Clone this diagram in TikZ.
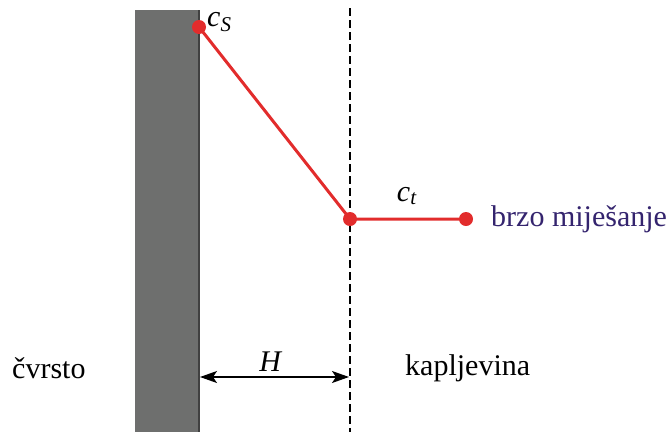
\documentclass[tikz,border=0pt]{standalone}
\usepackage{fontspec}
\setmainfont{Liberation Serif}
\usepackage{tikz}
\definecolor{wallgray}{RGB}{110,111,110}
\definecolor{dotred}{RGB}{226,44,44}
\definecolor{mixviolet}{RGB}{52,36,110}
\usetikzlibrary{arrows.meta, positioning}

\begin{document}
\begin{tikzpicture}[x=1pt, y=-1pt,
		>={Stealth[length=17pt, width=12pt, inset=4pt]},   %Pfeilspitzen
		dot/.style={circle, fill=dotred, inner sep=0pt, minimum size=14pt},
		label/.style={inner sep=0pt, font=\fontsize{30}{35}\selectfont}]
		%Bildbereich
		\useasboundingbox (0,0) rectangle (670,432);
		%Wand zeichnen
		\fill[wallgray] (135,10) rectangle (199,432);
		\draw[line width=2pt, black!75] (199,10) -- (199,432);
		%Grenzschicht
		\draw[line width=1.3pt, dash pattern=on 8pt off 4pt] (350,8) -- (350,432);
		%Punkte
		\node[dot] (cs) at (199,27) {};
		\node[dot] (ci) at (350,219) {};
		\node[dot] (cb) at (466,219) {};
		%Konzentrationsverlauf
		\draw[dotred, line width=3pt] (cs.center) -- (ci.center) -- (cb.center);
		%Beschriftung
		\node[label, anchor=west] (lcs) at (207,22) {\textit{c}\textsubscript{\textit{S}}};
		\node[label] (lct) at (407,196) {\textit{c}\textsubscript{\textit{t}}};
		\node[label, anchor=west, text=mixviolet] (mix) at (491,219) {brzo miješanje};
		\node[label, anchor=west] (solid) at (12,368) {čvrsto};
		\node[label, anchor=west] (liquid) at (405,368) {kapljevina};
		% Bemassung
		\coordinate (hl) at (200,377);
		\coordinate (hr) at (349,377);
		\draw[<->, line width=1.3pt] (hl) -- (hr);
		\node[label] (h) at (271,362) {\textit{H}};
	\end{tikzpicture}
\end{document}
